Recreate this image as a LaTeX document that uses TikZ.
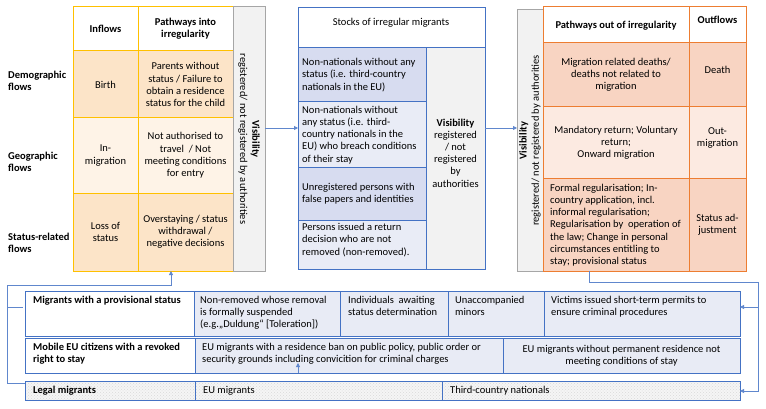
\documentclass[tikz,border=0pt]{standalone}
\usepackage{fontspec}
\setmainfont{Carlito}
\usetikzlibrary{arrows.meta,patterns}
\definecolor{ybord}{HTML}{FFC000}
\definecolor{yfillA}{HTML}{FCE4C8}
\definecolor{yfillB}{HTML}{FEF3E7}
\definecolor{bbord}{HTML}{4472C4}
\definecolor{bfillA}{HTML}{D7DCF0}
\definecolor{bfillB}{HTML}{E9ECF6}
\definecolor{gfill}{HTML}{F2F2F2}
\definecolor{gbord}{HTML}{A6A6A6}
\definecolor{obord}{HTML}{ED7D31}
\definecolor{ofillA}{HTML}{F8D4C2}
\definecolor{ofillB}{HTML}{FCEAE1}
\definecolor{lfill}{HTML}{E8EBF5}
\newcommand\myfs{\fontsize{10.5}{12.2}\selectfont}
\tikzset{
  x=1pt,y=-1pt,
  cell/.style={rectangle,anchor=north west,inner sep=0pt,outer sep=0pt,line width=1pt,font=\myfs,align=center},
  ycell/.style={cell,draw=ybord,fill=yfillA},
  bcell/.style={cell,draw=bbord,fill=bfillA},
  ocell/.style={cell,draw=obord,fill=ofillA},
  gcell/.style={cell,draw=gbord,fill=gfill},
  lcell/.style={cell,draw=bbord,fill=lfill},
  dotcell/.style={cell,draw=bbord,preaction={fill=gray!8},preaction={pattern=crosshatch dots,pattern color=gray!30}},
  txt/.style={inner sep=0pt,font=\myfs,align=center},
  ltxt/.style={inner sep=0pt,font=\myfs,align=left},
  conn/.style={draw=bbord!85,line width=0.8pt},
  tip/.style={-{Triangle[length=4pt,width=4pt]}}
}
\begin{document}
\begin{tikzpicture}
\useasboundingbox[fill=white] (0,0) rectangle (766,409);
% ---------- left table ----------
\node[ycell,fill=white,minimum width=65pt,minimum height=44pt] (y0a) at (73,7) {\textbf{Inflows}};
\node[ycell,fill=white,minimum width=95pt,minimum height=44pt] (y0b) at (138,7) {\textbf{Pathways into}\\\textbf{irregularity}};
\node[ycell,minimum width=65pt,minimum height=67pt] (y1a) at (73,51) {Birth};
\node[ycell,minimum width=95pt,minimum height=67pt] (y1b) at (138,51) {Parents without\\status / Failure to\\obtain a residence\\status for the child};
\node[ycell,fill=yfillB,minimum width=65pt,minimum height=75pt] (y2a) at (73,118) {In-\\migration};
\node[ycell,fill=yfillB,minimum width=95pt,minimum height=75pt] (y2b) at (138,118) {Not authorised to\\travel\ \ / Not\\meeting conditions\\for entry};
\node[ycell,minimum width=65pt,minimum height=78pt] (y3a) at (73,193) {Loss of\\status};
\node[ycell,minimum width=95pt,minimum height=78pt] (y3b) at (138,193) {Overstaying / status\\withdrawal /\\negative decisions};
\node[gcell,minimum width=32pt,minimum height=264pt] (lvis) at (233,7) {};
\node[txt,rotate=-90] (lvist) at (lvis.center) {\textbf{Visibility}\\registered/ not registered by authorities};
\node[ltxt,anchor=west] (f1) at (8,81) {\textbf{Demographic}\\\textbf{flows}};
\node[ltxt,anchor=west] (f2) at (8,162) {\textbf{Geographic}\\\textbf{flows}};
\node[ltxt,anchor=west] (f3) at (8,243) {\textbf{Status-related}\\\textbf{flows}};
% ---------- middle table ----------
\node[bcell,fill=white,minimum width=187pt,minimum height=40pt] (m0) at (298,8) {};
\node[txt] (m0t) at (391,23) {Stocks of irregular migrants};
\node[bcell,minimum width=128pt,minimum height=54pt] (m1) at (298,48) {};
\node[bcell,fill=bfillB,minimum width=128pt,minimum height=66pt] (m2) at (298,102) {};
\node[bcell,minimum width=128pt,minimum height=52pt] (m3) at (298,168) {};
\node[bcell,fill=bfillB,minimum width=128pt,minimum height=49pt] (m4) at (298,220) {};
\node[bcell,fill=gfill,minimum width=59pt,minimum height=221pt] (mvis) at (426,48) {};
\node[ltxt,anchor=west] (m1t) at (302,75) {Non-nationals without any\\status (i.e. third-country\\nationals in the EU)};
\node[ltxt,anchor=west] (m2t) at (302,135) {Non-nationals without\\any status (i.e. third-\\country nationals in the\\EU) who breach conditions\\of their stay};
\node[ltxt,anchor=west] (m3t) at (302,194) {Unregistered persons with\\false papers and identities};
\node[ltxt,anchor=west] (m4t) at (302,240) {Persons issued a return\\decision who are not\\removed (non-removed).};
\node[txt] (mvist) at (455.5,153) {\textbf{Visibility}\\registered\\/ not\\registered\\by\\authorities};
% ---------- right table ----------
\node[gcell,minimum width=26pt,minimum height=261pt] (rvis) at (517,10) {};
\node[txt,rotate=90] (rvist) at (rvis.center) {\textbf{Visibility}\\registered/ not registered by authorities};
\node[ocell,fill=white,minimum width=146pt,minimum height=36pt] (o0a) at (543,7) {};
\node[txt] (o0at) at (616,26) {\textbf{Pathways out of irregularity}};
\node[ocell,fill=white,minimum width=57pt,minimum height=36pt] (o0b) at (689,7) {};
\node[txt] (o0bt) at (717.5,20) {\textbf{Outflows}};
\node[ocell,minimum width=146pt,minimum height=64pt] (o1a) at (543,43) {Migration related deaths/\\deaths not related to\\migration};
\node[ocell,minimum width=57pt,minimum height=64pt] (o1b) at (689,43) {};
\node[txt] (o1bt) at (717.5,70) {Death};
\node[ocell,fill=ofillB,minimum width=146pt,minimum height=72pt] (o2a) at (543,107) {Mandatory return; Voluntary\\return;\\Onward migration};
\node[ocell,fill=ofillB,minimum width=57pt,minimum height=72pt] (o2b) at (689,107) {};
\node[txt] (o2bt) at (717.5,138) {Out-\\migration};
\node[ocell,minimum width=146pt,minimum height=92pt] (o3a) at (543,179) {};
\node[ltxt,anchor=west] (o3at) at (550,225) {Formal regularisation; In-\\country application, incl.\\informal regularisation;\\Regularisation by\ \ operation of\\the law; Change in personal\\circumstances entitling to\\stay; provisional status};
\node[ocell,minimum width=57pt,minimum height=92pt] (o3b) at (689,179) {Status ad-\\justment};
% ---------- bottom boxes ----------
\node[lcell,fill=white,minimum width=169pt,minimum height=45pt] (p1) at (25,291) {};
\node[lcell,minimum width=146pt,minimum height=45pt] (p2) at (194,291) {};
\node[lcell,minimum width=108pt,minimum height=45pt] (p3) at (340,291) {};
\node[lcell,minimum width=96pt,minimum height=45pt] (p4) at (448,291) {};
\node[lcell,minimum width=196pt,minimum height=45pt] (p5) at (544,291) {};
\node[ltxt,anchor=north west] (p1t) at (33,296) {\textbf{Migrants with a provisional status}};
\node[ltxt,anchor=north west] (p2t) at (200,296) {Non-removed whose removal\\is formally suspended\\(e.g.„Duldung“ [Toleration])};
\node[ltxt,anchor=north west] (p3t) at (348,296) {Individuals\ \ awaiting\\status determination};
\node[ltxt,anchor=north west] (p4t) at (455,296) {Unaccompanied\\minors};
\node[ltxt,anchor=north west] (p5t) at (551,296) {Victims issued short-term permits to\\ensure criminal procedures};
\node[lcell,fill=white,minimum width=170pt,minimum height=35pt] (q1) at (25,338) {};
\node[lcell,minimum width=308pt,minimum height=35pt] (q2) at (195,338) {};
\node[lcell,minimum width=237pt,minimum height=35pt] (q3) at (503,338) {EU migrants without permanent residence not\\meeting conditions of stay};
\node[ltxt,anchor=north west] (q1t) at (33,343) {\textbf{Mobile EU citizens with a revoked}\\\textbf{right to stay}};
\node[ltxt,anchor=north west] (q2t) at (202,343) {EU migrants with a residence ban on public policy, public order or\\security grounds including convicition for criminal charges};
\node[dotcell,minimum width=170pt,minimum height=19pt] (g1) at (25,381) {};
\node[dotcell,minimum width=247pt,minimum height=19pt] (g2) at (195,381) {};
\node[dotcell,minimum width=298pt,minimum height=19pt] (g3) at (442,381) {};
\node[ltxt,anchor=west] (g1t) at (33,390.5) {\textbf{Legal migrants}};
\node[ltxt,anchor=west] (g2t) at (203,390.5) {EU migrants};
\node[ltxt,anchor=west] (g3t) at (450,390.5) {Third-country nationals};
% ---------- connectors ----------
\coordinate (ay) at (0,128);
\draw[conn,tip] (lvis.east |- ay) -- (m1.west |- ay);
\draw[conn,tip] (mvis.east |- ay) -- (rvis.west |- ay);
\coordinate (r1) at (589,282);
\coordinate (r2) at (758,282);
\coordinate (r3) at (758,391);
\coordinate (rb) at (758,307);
\draw[conn,tip] (r1 |- o3a.south) -- (r1) -- (r2) -- (r3) -- (g3.east |- r3);
\draw[conn,tip] (rb) -- (p5.east |- rb);
\coordinate (l0) at (171,285);
\coordinate (l1) at (7,285);
\coordinate (l2) at (7,383);
\coordinate (lb) at (7,307);
\draw[conn,tip] (g1.west |- l2) -- (l2) -- (l1) -- (l0) -- (l0 |- y3b.south);
\draw[conn] (lb) -- ([xshift=-2pt]p1.west |- lb);
\coordinate (ms) at (298,373);
\draw[conn,tip] (ms) -- ++(0,-10);
\end{tikzpicture}
\end{document}
